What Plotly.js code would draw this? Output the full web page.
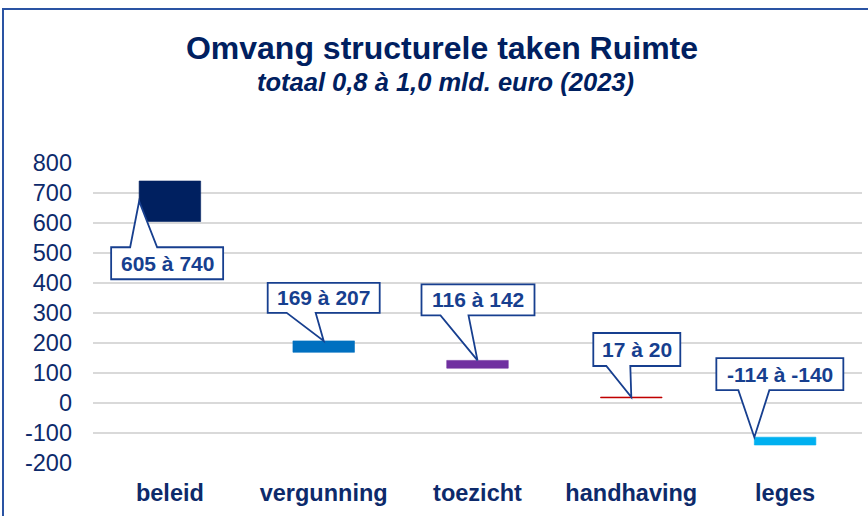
<!DOCTYPE html>
<html>
<head>
<meta charset="utf-8">
<script src="https://cdn.plot.ly/plotly-3.0.1.min.js"></script>
<style>
  html, body { margin: 0; padding: 0; background: #ffffff; overflow: hidden; }
  #chart { position: absolute; left: 0; top: 0; width: 868px; height: 516px; }
  #frame { position: absolute; left: 2px; top: 8px; width: 900px; height: 600px;
           border-left: 2px solid #2a53a3; border-top: 2px solid #2a53a3; pointer-events: none; }
</style>
</head>
<body>
<div id="chart"></div>
<div id="frame"></div>
<script>
// ---- data ----
const categories = ["beleid", "vergunning", "toezicht", "handhaving", "leges"];
const rangeFrom = [605, 169, 116, 17, -114];
const rangeTo   = [740, 207, 142, 20, -140];
const barColors = ["#002060", "#0070C0", "#7030A0", "#C00000", "#00B0F0"];
const yTickValues = [-200, -100, 0, 100, 200, 300, 400, 500, 600, 700, 800];
const yTickLabels = ["-200", "-100", "0", "100", "200", "300", "400", "500", "600", "700", "800"];
const titleText = "Omvang structurele taken Ruimte";
const subtitleText = "totaal 0,8 à 1,0 mld. euro (2023)";

// ---- derived ----
const bases = rangeFrom.map((a, i) => Math.min(a, rangeTo[i]));
const heights = rangeFrom.map((a, i) => Math.abs(rangeTo[i] - a));
const labels = rangeFrom.map((a, i) => a + " à " + rangeTo[i]);

// callout styling: where the pointer touches the bar, and the box geometry (pixels, screen y down)
const BAR_W = 0.4;
const tipAtMiddle = [true, false, false, false, false];
const tipDx = [-BAR_W / 2, 0, 0, 0, -BAR_W / 2];
const boxGeom = [
  // left, right, top, bottom, wedgeLeft, wedgeRight (relative to tip)
  [-28, 84, 46, 78, -9, 18],
  [-56, 56, -58, -28, -37, -8],
  [-56, 57, -76, -45, -37, -9],
  [-38, 49, -64, -31, -25, -1],
  [-38, 89, -79, -47, -16, 15]
];

const FONT = "Liberation Sans, Arial, sans-serif";
const NAVY = "#0d2a6b";
const CALLOUT = "#173f8f";

const shapes = [];
const annotations = [];
categories.forEach((c, i) => {
  const top = bases[i] + heights[i];
  const tipY = tipAtMiddle[i] ? bases[i] + heights[i] / 2 : top;
  const tipX = i + tipDx[i];
  const [l, r, t, b, wl, wr] = boxGeom[i];
  let pts;
  if (t > 0) {
    pts = [[l, t], [wl, t], [0, 0], [wr, t], [r, t], [r, b], [l, b]];
  } else {
    pts = [[l, t], [r, t], [r, b], [wr, b], [0, 0], [wl, b], [l, b]];
  }
  const path = "M" + pts.map(p => p[0] + "," + (-p[1])).join(" L") + " Z";
  shapes.push({
    type: "path", xref: "x", yref: "y",
    xsizemode: "pixel", ysizemode: "pixel",
    xanchor: tipX, yanchor: tipY,
    path: path,
    fillcolor: "#ffffff",
    line: { color: CALLOUT, width: 1.8 },
    layer: "above"
  });
  annotations.push({
    x: tipX, y: tipY, xref: "x", yref: "y",
    xshift: (l + r) / 2, yshift: -(t + b) / 2,
    text: "<b>" + labels[i] + "</b>",
    showarrow: false,
    font: { family: FONT, size: 21, color: CALLOUT },
    xanchor: "center", yanchor: "middle"
  });
});

annotations.push({
  xref: "paper", yref: "paper",
  x: (445 - 93) / (862 - 93), y: 1 + (163 - 82) / 300,
  text: "<b><i>" + subtitleText + "</i></b>",
  showarrow: false,
  font: { family: FONT, size: 25.5, color: "#002060" },
  xanchor: "center", yanchor: "middle"
});

const trace = {
  type: "bar",
  x: categories,
  y: heights,
  base: bases,
  width: BAR_W,
  marker: { color: barColors, line: { width: 0.6, color: barColors } },
  hoverinfo: "skip"
};

const layout = {
  width: 868, height: 516,
  margin: { l: 93, r: 6, t: 163, b: 53 },
  paper_bgcolor: "#ffffff",
  plot_bgcolor: "#ffffff",
  showlegend: false,
  title: {
    text: "<b>" + titleText + "</b>",
    font: { family: FONT, size: 32, color: "#002060" },
    xref: "container", yref: "container",
    x: 442 / 868, y: 1 - 47.5 / 516,
    xanchor: "center", yanchor: "middle"
  },
  xaxis: {
    type: "category",
    range: [-0.5, 4.5],
    showgrid: false, zeroline: false, showline: false,
    ticks: "",
    ticklabelstandoff: 13,
    tickfont: { family: FONT, size: 23.5, color: NAVY, weight: "bold" },
    fixedrange: true
  },
  yaxis: {
    range: [-200, 800],
    tickmode: "array",
    tickvals: yTickValues,
    ticktext: yTickLabels,
    showgrid: true, gridcolor: "#d9d9d9", gridwidth: 2,
    zeroline: true, zerolinecolor: "#d9d9d9", zerolinewidth: 2,
    showline: false,
    ticks: "",
    ticklabelstandoff: 20,
    tickfont: { family: FONT, size: 23.5, color: NAVY },
    fixedrange: true
  },
  shapes: shapes,
  annotations: annotations
};

Plotly.newPlot("chart", [trace], layout, { staticPlot: true, displayModeBar: false });
</script>
</body>
</html>
